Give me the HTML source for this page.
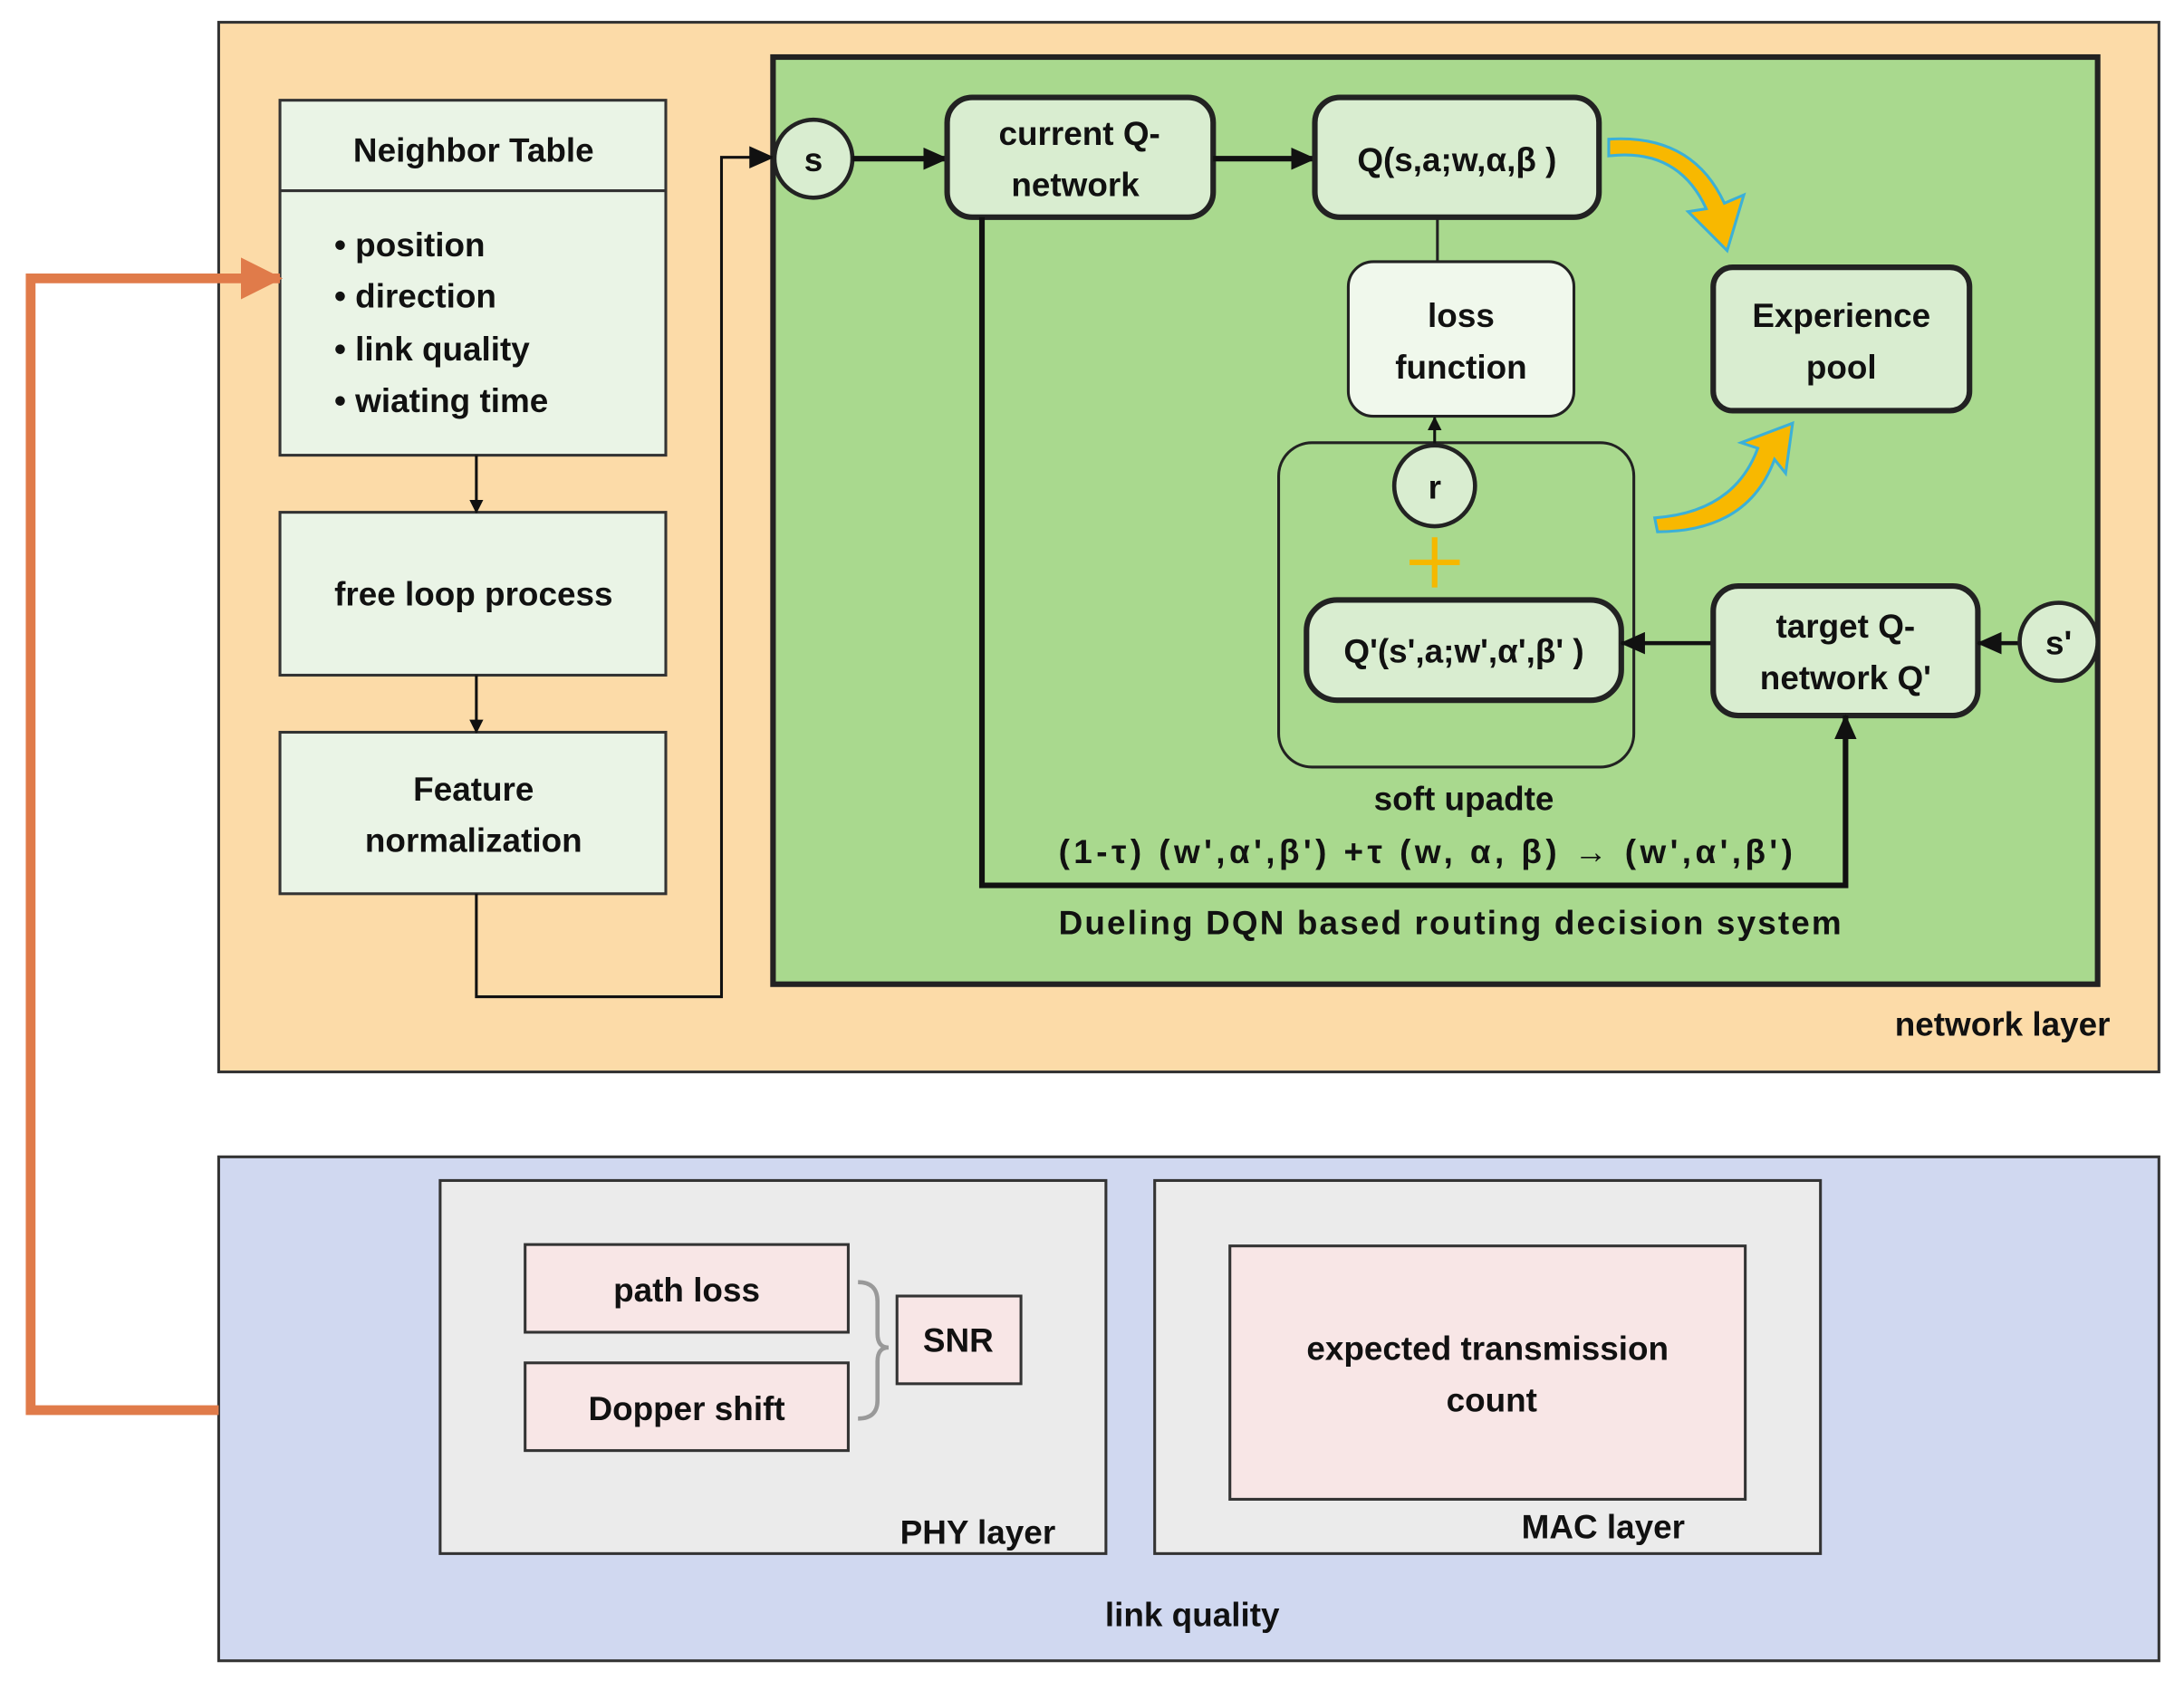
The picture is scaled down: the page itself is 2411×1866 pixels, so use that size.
<!DOCTYPE html>
<html><head><meta charset="utf-8"><style>
html,body{margin:0;padding:0;background:#fff;}
svg{display:block;}
text{font-family:"Liberation Sans",sans-serif;font-weight:bold;fill:#111;}
</style></head><body>
<svg width="2411" height="1866" viewBox="0 0 1568 1214" preserveAspectRatio="none" xmlns="http://www.w3.org/2000/svg">
<defs>
<marker id="ah" markerWidth="10" markerHeight="10" refX="9" refY="5" orient="auto" markerUnits="userSpaceOnUse"><path d="M0,0 L10,5 L0,10 z" fill="#111"/></marker>
<marker id="ahb" markerWidth="18" markerHeight="16" refX="17" refY="8" orient="auto" markerUnits="userSpaceOnUse"><path d="M0,0 L18,8 L0,16 z" fill="#111"/></marker>
<marker id="aho" markerWidth="30" markerHeight="30" refX="28" refY="15" orient="auto" markerUnits="userSpaceOnUse"><path d="M0,0 L30,15 L0,30 z" fill="#E07B4A"/></marker>
</defs>
<rect x="157" y="16" width="1393" height="754" fill="#FCDBA8" stroke="#333" stroke-width="2"/>
<text x="1515" y="744" font-size="24" text-anchor="end">network layer</text>
<rect x="157" y="831" width="1393" height="362" fill="#D0D8F0" stroke="#333" stroke-width="2"/>
<text x="856" y="1168" font-size="24" text-anchor="middle">link quality</text>
<rect x="555" y="41" width="951" height="666" fill="#A9D98E" stroke="#222" stroke-width="4"/>

<rect x="201" y="72" width="277" height="255" fill="#EAF4E6" stroke="#333" stroke-width="2"/>
<line x1="201" y1="137" x2="478" y2="137" stroke="#333" stroke-width="2"/>
<text x="340" y="116" font-size="24" text-anchor="middle">Neighbor Table</text>
<g font-size="24">
<text x="240" y="184">• position</text>
<text x="240" y="221">• direction</text>
<text x="240" y="259">• link quality</text>
<text x="240" y="296">• wiating time</text>
</g>
<rect x="201" y="368" width="277" height="117" fill="#EAF4E6" stroke="#333" stroke-width="2"/>
<text x="340" y="435" font-size="24" text-anchor="middle">free loop process</text>
<rect x="201" y="526" width="277" height="116" fill="#EAF4E6" stroke="#333" stroke-width="2"/>
<text x="340" y="575" font-size="24" text-anchor="middle">Feature</text>
<text x="340" y="612" font-size="24" text-anchor="middle">normalization</text>
<line x1="342" y1="327" x2="342" y2="368" stroke="#111" stroke-width="2" marker-end="url(#ah)"/>
<line x1="342" y1="485" x2="342" y2="526" stroke="#111" stroke-width="2" marker-end="url(#ah)"/>
<polyline points="342,642 342,716 518,716 518,113 555,113" fill="none" stroke="#111" stroke-width="2" marker-end="url(#ahb)"/>

<circle cx="584" cy="114" r="28" fill="#D9EDD0" stroke="#222" stroke-width="3"/>
<text x="584" y="123" font-size="24" text-anchor="middle">s</text>
<line x1="612" y1="114" x2="680" y2="114" stroke="#111" stroke-width="4" marker-end="url(#ahb)"/>
<rect x="680" y="70" width="191" height="86" rx="18" fill="#D9EDD0" stroke="#222" stroke-width="4"/>
<text x="775" y="104" font-size="24" text-anchor="middle">current Q-</text>
<text x="772" y="141" font-size="24" text-anchor="middle">network</text>
<line x1="871" y1="114" x2="944" y2="114" stroke="#111" stroke-width="4" marker-end="url(#ahb)"/>
<rect x="944" y="70" width="204" height="86" rx="18" fill="#D9EDD0" stroke="#222" stroke-width="4"/>
<text x="1046" y="123" font-size="24" text-anchor="middle">Q(s,a;w,α,β )</text>
<line x1="1032" y1="156" x2="1032" y2="188" stroke="#222" stroke-width="2"/>
<rect x="968" y="188" width="162" height="111" rx="18" fill="#F0F8EC" stroke="#222" stroke-width="2"/>
<text x="1049" y="235" font-size="24" text-anchor="middle">loss</text>
<text x="1049" y="272" font-size="24" text-anchor="middle">function</text>
<rect x="1230" y="192" width="184" height="103" rx="14" fill="#D9EDD0" stroke="#222" stroke-width="4"/>
<text x="1322" y="235" font-size="24" text-anchor="middle">Experience</text>
<text x="1322" y="272" font-size="24" text-anchor="middle">pool</text>

<rect x="918" y="318" width="255" height="233" rx="24" fill="none" stroke="#222" stroke-width="2"/>
<line x1="1030" y1="320" x2="1030" y2="300" stroke="#111" stroke-width="2" marker-end="url(#ah)"/>
<circle cx="1030" cy="349" r="29" fill="#D9EDD0" stroke="#222" stroke-width="3"/>
<text x="1030" y="358" font-size="24" text-anchor="middle">r</text>
<path d="M1012,404 h36 M1030,386 v36" stroke="#F5B800" stroke-width="4"/>
<rect x="938" y="431" width="226" height="72" rx="22" fill="#D9EDD0" stroke="#222" stroke-width="4"/>
<text x="1051" y="476" font-size="24" text-anchor="middle">Q'(s',a;w',α',β' )</text>
<line x1="1230" y1="462" x2="1164" y2="462" stroke="#111" stroke-width="3" marker-end="url(#ahb)"/>
<rect x="1230" y="421" width="190" height="93" rx="18" fill="#D9EDD0" stroke="#222" stroke-width="4"/>
<text x="1325" y="458" font-size="24" text-anchor="middle">target Q-</text>
<text x="1325" y="495" font-size="24" text-anchor="middle">network Q'</text>
<line x1="1450" y1="462" x2="1420" y2="462" stroke="#111" stroke-width="3" marker-end="url(#ahb)"/>
<circle cx="1478" cy="461" r="28" fill="#D9EDD0" stroke="#222" stroke-width="3"/>
<text x="1478" y="470" font-size="24" text-anchor="middle">s'</text>
<polyline points="705,156 705,636 1325,636 1325,514" fill="none" stroke="#111" stroke-width="4" marker-end="url(#ahb)"/>
<text x="1051" y="582" font-size="24" text-anchor="middle">soft upadte</text>
<text x="760" y="620" font-size="24" textLength="527" lengthAdjust="spacing">(1-τ)  (w',α',β')  +τ  (w, α, β)  →  (w',α',β')</text>
<text x="760" y="671" font-size="24" textLength="562" lengthAdjust="spacing">Dueling DQN based routing  decision system</text>

<path d="M1155,112 Q1205,106 1225,150 L1212,152 L1240,180 L1252,140 L1238,146 Q1215,96 1155,100 Z" fill="#F8B800" stroke="#3BB0D8" stroke-width="2"/>
<path d="M1188,372 Q1245,368 1262,322 L1250,318 L1287,304 L1282,340 L1274,330 Q1255,382 1190,382 Z" fill="#F8B800" stroke="#3BB0D8" stroke-width="2"/>

<polyline points="157,1013 22,1013 22,200 201,200" fill="none" stroke="#E07B4A" stroke-width="7" marker-end="url(#aho)"/>

<rect x="316" y="848" width="478" height="268" fill="#EBEBEB" stroke="#333" stroke-width="2"/>
<text x="702" y="1109" font-size="24" text-anchor="middle">PHY layer</text>
<rect x="377" y="894" width="232" height="63" fill="#F8E6E6" stroke="#333" stroke-width="2"/>
<text x="493" y="935" font-size="24" text-anchor="middle">path loss</text>
<rect x="377" y="979" width="232" height="63" fill="#F8E6E6" stroke="#333" stroke-width="2"/>
<text x="493" y="1020" font-size="24" text-anchor="middle">Dopper shift</text>
<path d="M616,921 Q630,921 630,935 L630,958 Q630,968 638,968 Q630,968 630,978 L630,1006 Q630,1019 616,1019" fill="none" stroke="#999" stroke-width="3"/>
<rect x="644" y="931" width="89" height="63" fill="#F8E6E6" stroke="#333" stroke-width="2"/>
<text x="688" y="971" font-size="24" text-anchor="middle">SNR</text>
<rect x="829" y="848" width="478" height="268" fill="#EBEBEB" stroke="#333" stroke-width="2"/>
<text x="1151" y="1105" font-size="24" text-anchor="middle">MAC layer</text>
<rect x="883" y="895" width="370" height="182" fill="#F8E6E6" stroke="#333" stroke-width="2"/>
<text x="1068" y="977" font-size="24" text-anchor="middle">expected transmission</text>
<text x="1071" y="1014" font-size="24" text-anchor="middle">count</text>
</svg>
</body></html>
